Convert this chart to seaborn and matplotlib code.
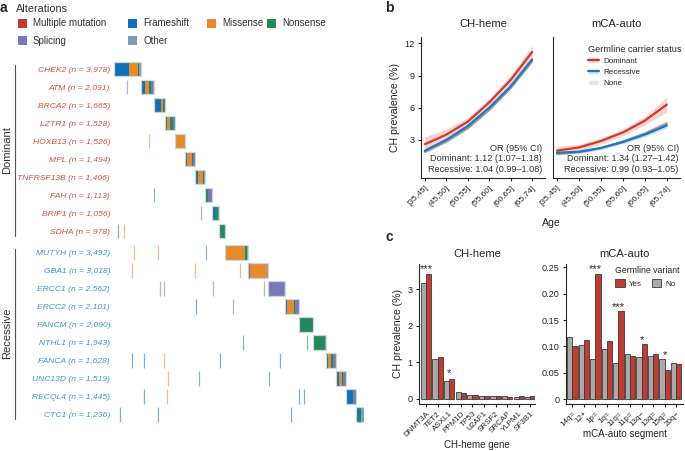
import numpy as np
import pandas as pd
import matplotlib
matplotlib.use("Agg")
import matplotlib.pyplot as plt
import matplotlib.transforms as mtransforms
from matplotlib.patches import Patch, Rectangle
from matplotlib.lines import Line2D
import seaborn as sns

# ---- panel a: germline genes and carriers ----
alt_types = ['Multiple mutation', 'Frameshift', 'Missense', 'Nonsense', 'Splicing', 'Other']
alt_colors = ['#C23B2E', '#1270B8', '#E68A2A', '#22895A', '#7A78B6', '#7C9FB3']

genes_dom = ['CHEK2', 'ATM', 'BRCA2', 'LZTR1', 'HOXB13', 'MPL', 'TNFRSF13B', 'FAH', 'BRIP1', 'SDHA']
n_dom = [3978, 2091, 1665, 1528, 1526, 1494, 1406, 1113, 1056, 978]
genes_rec = ['MUTYH', 'GBA1', 'ERCC1', 'ERCC2', 'FANCM', 'NTHL1', 'FANCA', 'UNC13D', 'RECQL4', 'CTC1']
n_rec = [3492, 3018, 2562, 2101, 2090, 1943, 1628, 1519, 1445, 1236]

# share of each alteration type (same order as alt_types)
frac_dom = [
    [0.005, 0.57, 0.33, 0.04, 0.0, 0.055],
    [0.0, 0.32, 0.27, 0.17, 0.17, 0.07],
    [0.0, 0.62, 0.15, 0.18, 0.0, 0.05],
    [0.0, 0.20, 0.26, 0.32, 0.20, 0.02],
    [0.0, 0.0, 0.97, 0.0, 0.0, 0.03],
    [0.0, 0.15, 0.50, 0.10, 0.25, 0.0],
    [0.0, 0.25, 0.57, 0.15, 0.0, 0.03],
    [0.0, 0.0, 0.25, 0.25, 0.50, 0.0],
    [0.0, 0.38, 0.0, 0.43, 0.10, 0.09],
    [0.0, 0.0, 0.10, 0.80, 0.0, 0.10],
]
frac_rec = [
    [0.0, 0.04, 0.82, 0.07, 0.03, 0.04],
    [0.0, 0.04, 0.90, 0.0, 0.0, 0.06],
    [0.0, 0.0, 0.0, 0.0, 0.96, 0.04],
    [0.0, 0.12, 0.50, 0.10, 0.28, 0.0],
    [0.0, 0.06, 0.0, 0.94, 0.0, 0.0],
    [0.0, 0.0, 0.0, 0.95, 0.0, 0.05],
    [0.0, 0.25, 0.30, 0.15, 0.30, 0.0],
    [0.0, 0.28, 0.28, 0.10, 0.34, 0.0],
    [0.0, 0.55, 0.0, 0.20, 0.25, 0.0],
    [0.0, 0.35, 0.08, 0.17, 0.0, 0.40],
]

# carriers of a second gene (gene row, carrier index, alteration type)
extra_gene = ['ATM', 'HOXB13', 'FAH', 'BRIP1', 'SDHA', 'SDHA',
              'MUTYH', 'MUTYH', 'MUTYH', 'GBA1', 'GBA1', 'GBA1', 'GBA1',
              'ERCC1', 'ERCC1', 'ERCC1', 'ERCC1', 'ERCC2', 'ERCC2',
              'NTHL1', 'NTHL1', 'FANCA', 'FANCA', 'FANCA', 'FANCA', 'FANCA',
              'UNC13D', 'UNC13D', 'UNC13D', 'RECQL4', 'RECQL4', 'RECQL4', 'RECQL4',
              'CTC1', 'CTC1', 'CTC1']
extra_pos = [1880, 5220, 5980, 13200, 610, 1430,
             3040, 6580, 13960, 2730, 12200, 19120, 20490,
             6980, 7590, 14930, 22670, 12350, 18060,
             19580, 29290, 2730, 4550, 7590, 16090, 25190,
             8150, 12900, 23520, 4460, 8040, 27980, 28830,
             910, 6680, 26860]
extra_type = ['Splicing', 'Missense', 'Nonsense', 'Splicing', 'Nonsense', 'Missense',
              'Missense', 'Missense', 'Nonsense', 'Missense', 'Missense', 'Missense', 'Frameshift',
              'Splicing', 'Splicing', 'Splicing', 'Splicing', 'Frameshift', 'Splicing',
              'Nonsense', 'Nonsense', 'Frameshift', 'Frameshift', 'Missense', 'Frameshift', 'Frameshift',
              'Missense', 'Nonsense', 'Nonsense', 'Frameshift', 'Missense', 'Frameshift', 'Frameshift',
              'Frameshift', 'Frameshift', 'Frameshift']

# ---- panel b: CH prevalence by age ----
age_bins = ['[35,45]', '(45,50]', '(50,55]', '(55,60]', '(60,65]', '(65,74]']
heme_dom = [2.6, 3.5, 4.7, 6.5, 8.6, 11.2]
heme_dom_lo = [1.95, 3.0, 4.35, 6.15, 8.15, 10.6]
heme_dom_hi = [3.3, 4.0, 5.1, 6.85, 9.05, 11.8]
heme_rec = [2.0, 3.0, 4.3, 6.0, 8.0, 10.5]
heme_rec_lo = [1.8, 2.85, 4.15, 5.85, 7.8, 10.25]
heme_rec_hi = [2.2, 3.15, 4.45, 6.15, 8.2, 10.75]
heme_none = [1.9, 2.85, 4.1, 5.8, 7.85, 10.35]
heme_none_lo = [1.75, 2.75, 4.0, 5.7, 7.75, 10.2]
heme_none_hi = [2.05, 2.95, 4.2, 5.9, 7.95, 10.5]

mca_dom = [2.0, 2.3, 2.9, 3.7, 4.8, 6.3]
mca_dom_lo = [1.6, 2.0, 2.6, 3.4, 4.4, 5.6]
mca_dom_hi = [2.4, 2.6, 3.2, 4.0, 5.2, 7.0]
mca_rec = [1.8, 1.9, 2.25, 2.8, 3.5, 4.35]
mca_rec_lo = [1.6, 1.75, 2.1, 2.65, 3.3, 4.1]
mca_rec_hi = [2.0, 2.05, 2.4, 2.95, 3.7, 4.6]
mca_none = [1.7, 1.85, 2.25, 2.85, 3.6, 4.55]
mca_none_lo = [1.6, 1.75, 2.15, 2.75, 3.5, 4.4]
mca_none_hi = [1.8, 1.95, 2.35, 2.95, 3.7, 4.7]

or_heme = ['OR (95% CI)', 'Dominant: 1.12 (1.07\u20131.18)', 'Recessive: 1.04 (0.99\u20131.08)']
or_mca = ['OR (95% CI)', 'Dominant: 1.34 (1.27\u20131.42)', 'Recessive: 0.99 (0.93\u20131.05)']

# ---- panel c: prevalence by gene / segment ----
heme_genes = ['DNMT3A', 'TET2', 'ASXL1', 'PPM1D', 'TP53', 'U2AF1', 'SRSF2', 'SRCAP', 'YLPM1', 'SF3B1']
heme_no = [3.18, 1.08, 0.48, 0.17, 0.11, 0.08, 0.06, 0.07, 0.05, 0.05]
heme_yes = [3.42, 1.15, 0.55, 0.16, 0.11, 0.08, 0.08, 0.05, 0.07, 0.06]
heme_stars = ['***', '', '*', '', '', '', '', '', '', '']

mca_segs = ['14q=', '12+', '1p=', '1q=', '11q=', '11p=', '13q\u2212', '13q=', '15q=', '20q\u2212']
mca_no = [0.118, 0.103, 0.077, 0.095, 0.068, 0.085, 0.080, 0.081, 0.077, 0.069]
mca_yes = [0.101, 0.112, 0.238, 0.111, 0.167, 0.081, 0.105, 0.085, 0.055, 0.067]
mca_stars = ['', '', '***', '', '***', '', '*', '', '*', '']

sns.set_theme(style='ticks')
plt.rcParams['font.family'] = ['Liberation Sans', 'DejaVu Sans']
plt.rcParams['axes.linewidth'] = 0.8
plt.rcParams['xtick.major.width'] = 0.8
plt.rcParams['ytick.major.width'] = 0.8
plt.rcParams['xtick.major.size'] = 2.5
plt.rcParams['ytick.major.size'] = 2.5
plt.rcParams['xtick.major.pad'] = 2
plt.rcParams['ytick.major.pad'] = 2

W, H = 685, 451
fig = plt.figure(figsize=(W / 100, H / 100), dpi=100)


def fx(px):
    return px / W


def fy(py):
    return 1 - py / H


def add_ax(l, t, r, b):
    return fig.add_axes([l / W, 1 - b / H, (r - l) / W, (b - t) / H])


col = dict(zip(alt_types, alt_colors))
txt_grey = '#333333'

# ================= panel a =================
ax_a = add_ax(114.3, 60, 364, 423.6)
genes = genes_dom + genes_rec
ns = n_dom + n_rec
fracs = frac_dom + frac_rec
ypos = [i for i in range(10)] + [10.2 + i for i in range(10)]
ycol = {g: y for g, y in zip(genes, ypos)}
starts = np.concatenate([[0], np.cumsum(ns)[:-1]])

for g, n, fr, y, s in zip(genes, ns, fracs, ypos, starts):
    left = s
    for t, f in zip(alt_types, fr):
        if f > 0:
            ax_a.barh(y, n * f, left=left, height=0.82, color=col[t], linewidth=0)
            left += n * f
    ax_a.barh(y, n, left=s, height=0.82, fill=False, edgecolor='#c8d8e6', linewidth=0.9)

for g, p, t in zip(extra_gene, extra_pos, extra_type):
    ax_a.vlines(p, ycol[g] - 0.4, ycol[g] + 0.4, color=col[t], lw=0.9, alpha=0.55)

ax_a.set_xlim(0, sum(ns))
ax_a.set_ylim(19.7, -0.5)
ax_a.set_xticks([])
ax_a.set_yticks(ypos, [f'{g} (n = {n:,})' for g, n in zip(genes, ns)])
ax_a.tick_params(axis='y', length=0, pad=3, labelsize=6.1)
for i, lab in enumerate(ax_a.get_yticklabels()):
    lab.set_style('italic')
    lab.set_color('#D4503E' if i < 10 else '#3C97D3')
for sp in ax_a.spines.values():
    sp.set_visible(False)

tr = mtransforms.blended_transform_factory(fig.transFigure, ax_a.transData)
ax_a.plot([fx(14.5)] * 2, [-0.2, 9.3], transform=tr, color='#555555', lw=0.8, clip_on=False)
ax_a.plot([fx(14.5)] * 2, [10.0, 19.45], transform=tr, color='#555555', lw=0.8, clip_on=False)
ax_a.text(fx(7.5), 4.5, 'Dominant', rotation=90, ha='center', va='center', transform=tr,
          fontsize=8, color=txt_grey)
ax_a.text(fx(7.5), 14.7, 'Recessive', rotation=90, ha='center', va='center', transform=tr,
          fontsize=8, color=txt_grey)

# legend of alteration types, laid out as in the figure
fig.text(fx(16), fy(8.5), 'Alterations', fontsize=7.8, va='center', color=txt_grey)
leg_x = [18, 128, 207, 267, 18, 128]
leg_y = [23.3, 23.3, 23.3, 23.3, 40.7, 40.7]
for t, c, lx, ly in zip(alt_types, alt_colors, leg_x, leg_y):
    fig.add_artist(Rectangle((fx(lx), fy(ly + 4.5)), 9 / W, 9 / H, transform=fig.transFigure,
                             facecolor=c, edgecolor='none'))
    fig.text(fx(lx + 15), fy(ly), t, fontsize=7, va='center', color=txt_grey)
fig.text(fx(0), fy(8.5), 'a', fontsize=10, fontweight='bold', va='center')

# ================= panel b =================
ax_b1 = add_ax(421, 37, 545, 178)
ax_b2 = add_ax(553, 37, 680, 178)
c_dom, c_rec, c_none = '#D2392B', '#1F77C4', '#9A9A9A'
band_dom, band_rec, band_none = '#EDB8B0', '#A9D0EE', '#D5D5D5'
x_age = np.arange(len(age_bins))

for ax, title, series, txt in [
    (ax_b1, 'CH-heme', [(heme_none, heme_none_lo, heme_none_hi, c_none, band_none),
                        (heme_rec, heme_rec_lo, heme_rec_hi, c_rec, band_rec),
                        (heme_dom, heme_dom_lo, heme_dom_hi, c_dom, band_dom)], or_heme),
    (ax_b2, 'mCA-auto', [(mca_none, mca_none_lo, mca_none_hi, c_none, band_none),
                         (mca_rec, mca_rec_lo, mca_rec_hi, c_rec, band_rec),
                         (mca_dom, mca_dom_lo, mca_dom_hi, c_dom, band_dom)], or_mca),
]:
    for mid, lo, hi, lc, bc in series:
        ax.fill_between(x_age, lo, hi, color=bc, alpha=0.6, linewidth=0)
        sns.lineplot(x=x_age, y=mid, color=lc, lw=1.6, ax=ax)
    ax.set_xlim(-0.18, 5.6)
    ax.set_ylim(-0.55, 12.6)
    ax.set_xticks(x_age)
    ax.set_xticklabels(age_bins, rotation=45, ha='right', rotation_mode='anchor', fontsize=6)
    ax.set_title(title, fontsize=8, pad=7)
    ax.text(0.975 if ax is ax_b1 else 0.99, 0.03, '\n'.join(txt), transform=ax.transAxes,
            ha='right', va='bottom', fontsize=6.6, linespacing=1.2, color=txt_grey)
    sns.despine(ax=ax)

ax_b1.set_yticks([3, 6, 9, 12])
ax_b1.tick_params(axis='y', labelsize=6.6)
ax_b1.set_ylabel('CH prevalence (%)', fontsize=7.6, labelpad=3)
ax_b2.set_yticks([])
fig.text(fx(551), fy(223), 'Age', ha='center', va='center', fontsize=7.6)

b_handles = [(Patch(facecolor=band_dom, alpha=0.6), Line2D([], [], color=c_dom, lw=1.6)),
             (Patch(facecolor=band_rec, alpha=0.6), Line2D([], [], color=c_rec, lw=1.6)),
             (Patch(facecolor=band_none, alpha=0.6),)]
ax_b2.legend(b_handles, ['Dominant', 'Recessive', 'None'], title='Germline carrier status',
             loc='upper left', bbox_to_anchor=(0.24, 0.98), frameon=False, fontsize=5.8,
             title_fontsize=6.6, alignment='left', handlelength=1.3, labelspacing=0.45,
             borderpad=0.1, handletextpad=0.6)
fig.text(fx(385), fy(8.5), 'b', fontsize=10, fontweight='bold', va='center')

# ================= panel c =================
c_red, c_gry = '#C23B2E', '#A9A9A9'
pal = {'No': c_gry, 'Yes': c_red}
ax_c1 = add_ax(419, 264, 535, 404)
ax_c2 = add_ax(566, 264, 683, 404)

df_heme = pd.DataFrame({'gene': heme_genes * 2, 'prev': heme_no + heme_yes,
                        'variant': ['No'] * 10 + ['Yes'] * 10})
df_mca = pd.DataFrame({'seg': mca_segs * 2, 'prev': mca_no + mca_yes,
                       'variant': ['No'] * 10 + ['Yes'] * 10})

sns.barplot(data=df_heme, x='gene', y='prev', hue='variant', hue_order=['No', 'Yes'],
            palette=pal, width=0.9, saturation=1, edgecolor='#3a3a3a', linewidth=0.6,
            legend=False, ax=ax_c1)
sns.barplot(data=df_mca, x='seg', y='prev', hue='variant', hue_order=['No', 'Yes'],
            palette=pal, width=0.9, saturation=1, edgecolor='#3a3a3a', linewidth=0.6,
            legend=False, ax=ax_c2)

for i, s in enumerate(heme_stars):
    if s:
        ax_c1.text(i, max(heme_no[i], heme_yes[i]) + 0.0, s, ha='center', va='bottom', fontsize=8)
for i, s in enumerate(mca_stars):
    if s:
        ax_c2.text(i, max(mca_no[i], mca_yes[i]) - 0.002, s, ha='center', va='bottom', fontsize=8)

ax_c1.set_xlim(-0.6, 9.4)
ax_c1.set_ylim(-0.15, 3.7)
ax_c1.set_yticks([0, 1, 2, 3])
ax_c1.set_ylabel('CH prevalence (%)', fontsize=7.6, labelpad=3)
ax_c1.set_xlabel('CH-heme gene', fontsize=7, labelpad=1)
ax_c1.set_title('CH-heme', fontsize=8, pad=5)

ax_c2.set_xlim(-0.55, 9.6)
ax_c2.set_ylim(-0.009, 0.256)
ax_c2.set_yticks([0, 0.05, 0.10, 0.15, 0.20, 0.25], ['0', '0.05', '0.10', '0.15', '0.20', '0.25'])
ax_c2.set_ylabel('')
ax_c2.set_xlabel('mCA-auto segment', fontsize=7, labelpad=1)
ax_c2.set_title('mCA-auto', fontsize=8, pad=5)

for ax in (ax_c1, ax_c2):
    ax.tick_params(axis='y', labelsize=6.6)
    ax.set_xticks(range(10))
    ax.set_xticklabels(ax.get_xticklabels(), rotation=45, ha='right', rotation_mode='anchor',
                       fontsize=5.8)
    sns.despine(ax=ax)

ax_c2.legend([Patch(facecolor=c_red, edgecolor='#3a3a3a', lw=0.6),
              Patch(facecolor=c_gry, edgecolor='#3a3a3a', lw=0.6)], ['Yes', 'No'],
             title='Germline variant', ncol=2, loc='upper left', bbox_to_anchor=(0.38, 1.02),
             frameon=False, fontsize=5.8, title_fontsize=6.3, alignment='left',
             handlelength=1.2, handleheight=1.1, columnspacing=1.2, handletextpad=0.5,
             borderpad=0.1)
fig.text(fx(385), fy(237), 'c', fontsize=10, fontweight='bold', va='center')

fig.savefig('out.png', dpi=100)
